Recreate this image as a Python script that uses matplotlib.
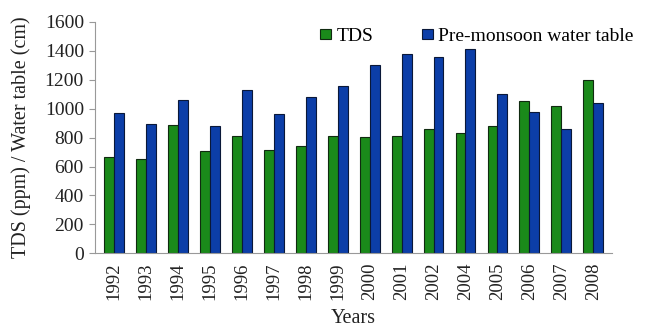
import numpy as np
import matplotlib.pyplot as plt

years = ["1992", "1993", "1994", "1995", "1996", "1997", "1998", "1999",
         "2000", "2001", "2002", "2004", "2005", "2006", "2007", "2008"]
tds = [667, 653, 889, 706, 810, 713, 741, 810,
       803, 808, 859, 833, 877, 1051, 1018, 1196]
water_table = [968, 893, 1060, 877, 1129, 965, 1083, 1159,
               1302, 1378, 1355, 1415, 1101, 977, 859, 1037]

plt.rcParams["font.family"] = ["Liberation Serif", "DejaVu Serif"]

fig = plt.figure(figsize=(6.55, 3.28), dpi=100)
ax = fig.add_axes([0.145, 0.228, 0.79, 0.705])

x = np.arange(len(years))
w = 0.31
ax.bar(x - w / 2, tds, w, color="#1a8a1a", edgecolor="#102a10",
       linewidth=0.8, label="TDS")
ax.bar(x + w / 2, water_table, w, color="#0c3ea8", edgecolor="#0a1838",
       linewidth=0.8, label="Pre-monsoon water table")

ax.set_ylim(0, 1600)
ax.set_yticks(np.arange(0, 1601, 200))
ax.set_xlim(-0.6, len(years) - 0.4)
ax.set_xticks(x)
ax.set_xticklabels(years, rotation=90)
ax.tick_params(axis="x", length=0, labelsize=13.5, pad=7, colors="#222222")
ax.tick_params(axis="y", length=4, labelsize=14, pad=4, colors="#222222")
ax.tick_params(axis="y", color="#999999")

for s in ["top", "right"]:
    ax.spines[s].set_visible(False)
for s in ["left", "bottom"]:
    ax.spines[s].set_color("#999999")

ax.set_ylabel("TDS (ppm) / Water table (cm)", fontsize=14.5, color="#222222",
              labelpad=10)
ax.set_xlabel("Years", fontsize=14.5, color="#222222", labelpad=6)

ax.legend(loc="upper right", bbox_to_anchor=(1.075, 1.05), ncol=2,
          frameon=False, fontsize=14, handlelength=0.6, handleheight=0.45,
          handletextpad=0.25, columnspacing=2.5)

fig.savefig("out.png", dpi=100)
